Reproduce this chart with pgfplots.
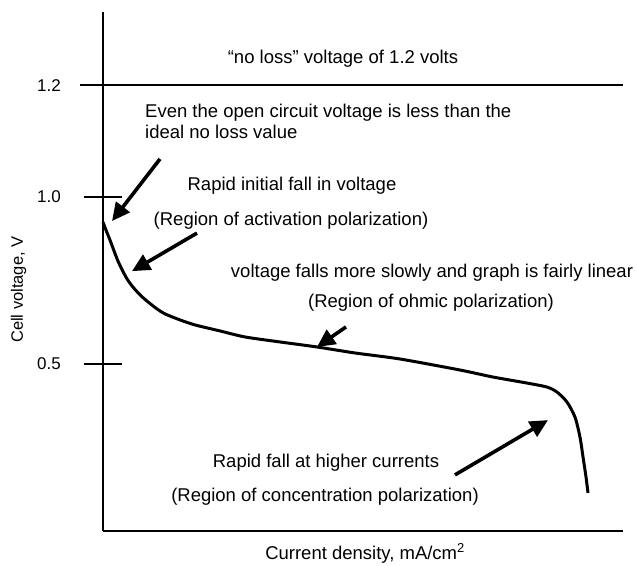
\documentclass[border=0pt]{standalone}
\usepackage{fontspec}
\setmainfont{Liberation Sans}
\usepackage{pgfplots}
\pgfplotsset{compat=1.18}
\usetikzlibrary{arrows.meta}
\newcommand{\myfont}{\fontsize{18.5bp}{22bp}\selectfont}
\newcommand{\labfont}{\fontsize{17bp}{20bp}\selectfont}
\tikzset{ann/.style={font=\myfont, inner sep=0pt}}
\begin{document}
\begin{tikzpicture}
\useasboundingbox (0,0) rectangle (637bp,566bp);
\begin{axis}[
  at={(103bp,35bp)}, anchor=south west,
  scale only axis, width=520bp, height=519bp,
  xmin=0, xmax=520, ymin=0, ymax=1.554,
  axis x line=bottom, axis y line=left,
  axis line style={-, line width=2.4bp},
  xtick=\empty,
  ytick={0.5,1.0,1.335},
  yticklabels={0.5,1.0,1.2},
  tick align=center,
  major tick length=38bp,
  tick style={line width=2.2bp, black},
  /pgf/number format/assume math mode=true,
  yticklabel style={font=\labfont, inner sep=0pt, anchor=east, xshift=-23bp},
  ylabel={Cell voltage, V},
  ylabel style={font=\fontsize{16.5bp}{20bp}\selectfont, at={(axis description cs:-0.154,0.465)}, anchor=base, rotate=0},
  xlabel={Current density, mA/cm\textsuperscript{2}},
  xlabel style={font=\myfont, at={(axis description cs:0.504,-0.054)}, anchor=base},
  clip=false,
]
% "no loss" line
\addplot[black, line width=2.4bp] coordinates {(-23,1.335) (520,1.335)};
% polarization curve
\addplot[black, line width=3bp, smooth, tension=0.45, line join=round] coordinates {
(0,0.925) (3,0.901) (7,0.871) (15,0.808) (23,0.760) (29,0.734) (37,0.707)
(45,0.686) (54,0.665) (62,0.650) (77,0.632) (92,0.617) (117,0.599) (142,0.581)
(177,0.566) (214,0.551) (252,0.533) (297,0.515) (357,0.482) (390,0.461)
(424,0.443) (444,0.431) (454,0.416) (464,0.386) (472,0.341) (477,0.281)
(480,0.222) (483,0.162) (485,0.114)
};
% arrows
\addplot[black, line width=3.6bp, -{Triangle[length=18bp,width=17bp]}] coordinates {(57,1.114) (9,0.928)};
\addplot[black, line width=3.6bp, -{Triangle[length=18bp,width=17bp]}] coordinates {(94,0.892) (29,0.778)};
\addplot[black, line width=3.6bp, -{Triangle[length=18bp,width=17bp]}] coordinates {(243,0.611) (214,0.551)};
\addplot[black, line width=3.6bp, -{Triangle[length=18bp,width=17bp]}] coordinates {(352,0.168) (445,0.332)};
% annotations
\node[ann, anchor=base] at (axis cs:240,1.401) {“no loss” voltage of 1.2 volts};
\node[ann, anchor=base west] at (axis cs:42,1.2395) {Even the open circuit voltage is less than the};
\node[ann, anchor=base west] at (axis cs:42,1.1766) {ideal no loss value};
\node[ann, anchor=base] at (axis cs:189,1.021) {Rapid initial fall in voltage};
\node[ann, anchor=base] at (axis cs:188,0.916) {(Region of activation polarization)};
\node[ann, anchor=base] at (axis cs:329,0.760) {voltage falls more slowly and graph is fairly linear};
\node[ann, anchor=base] at (axis cs:328,0.668) {(Region of ohmic polarization)};
\node[ann, anchor=base] at (axis cs:223,0.189) {Rapid fall at higher currents};
\node[ann, anchor=base] at (axis cs:222,0.087) {(Region of concentration polarization)};
\end{axis}
\end{tikzpicture}
\end{document}
